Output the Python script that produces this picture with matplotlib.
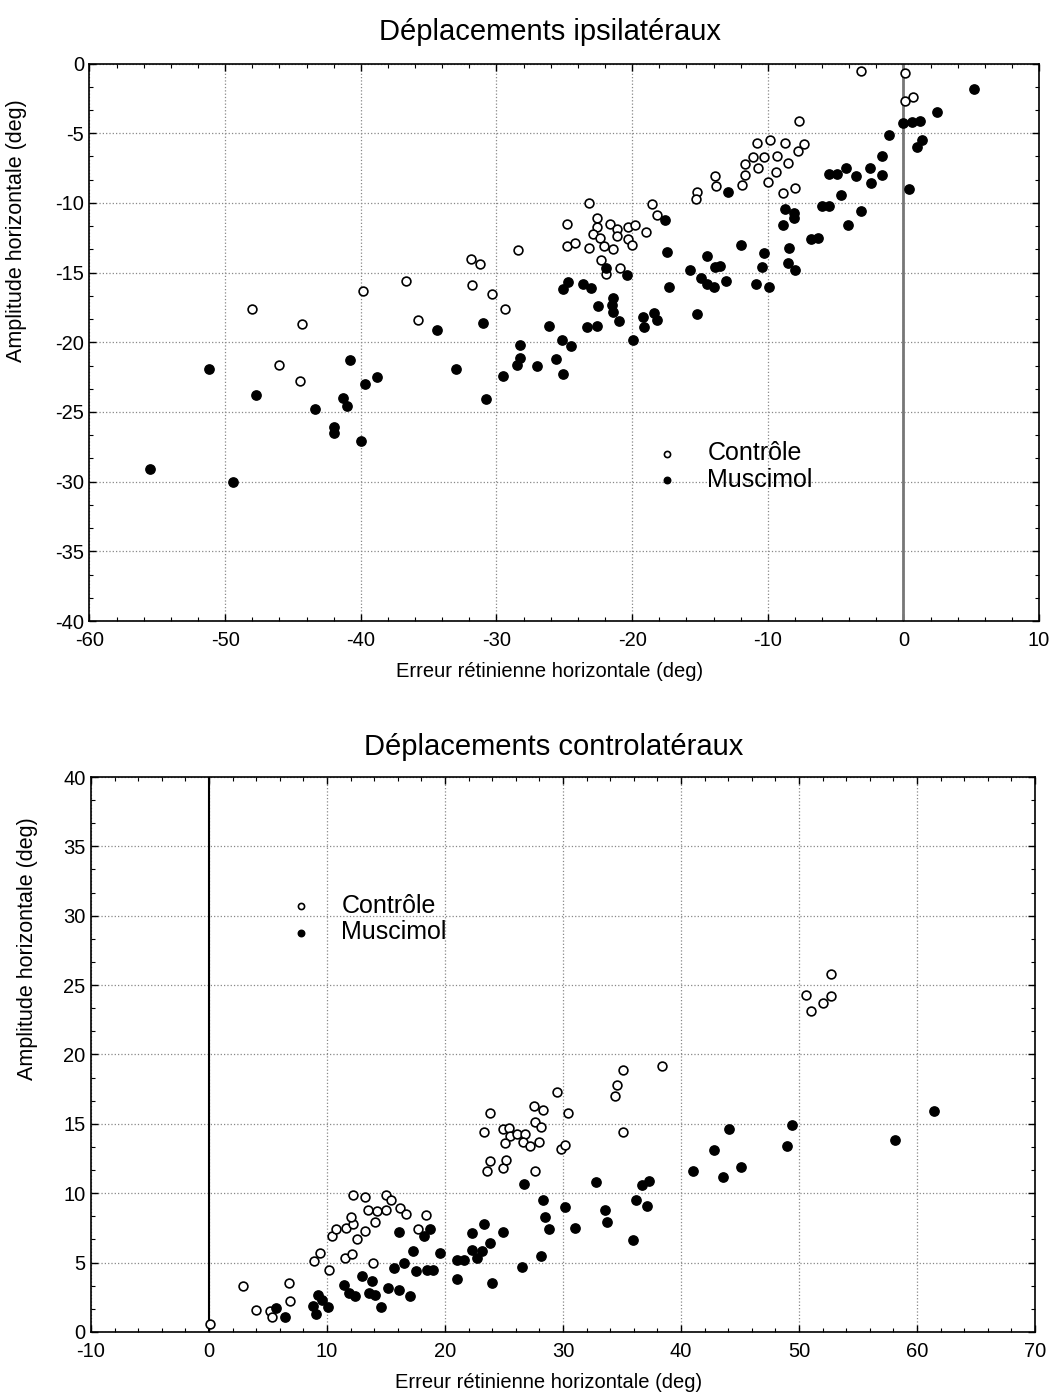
import matplotlib
matplotlib.use("Agg")
import matplotlib.pyplot as plt
from matplotlib.ticker import MultipleLocator, AutoMinorLocator

plt.rcParams['font.family'] = ['Liberation Sans', 'DejaVu Sans']
plt.rcParams['axes.unicode_minus'] = False

# Ipsilateral movements (top panel)
ipsi_ctrl_x = [-48.0, -44.3, -39.8, -36.7, -35.8, -31.9, -31.2, -31.8, -30.3, -29.4,
               -28.4, -24.8, -24.8, -46.0, -44.5, -3.1, 0.1, 0.7, 0.1, -7.7,
               -10.8, -9.8, -8.7, -7.3, -7.8, -11.1, -10.3, -9.3, -11.7, -10.7,
               -8.5, -13.9, -11.7, -9.4, -13.8, -11.9, -10.0, -15.2, -15.3, -8.9,
               -8.0, -23.2, -18.5, -18.2, -22.6, -22.6, -21.6, -21.1, -20.3, -19.8,
               -19.0, -22.9, -22.4, -21.1, -20.3, -20.0, -24.2, -23.2, -22.1, -21.4,
               -22.3, -20.9, -21.9]
ipsi_ctrl_y = [-17.6, -18.7, -16.3, -15.6, -18.4, -14.0, -14.4, -15.9, -16.5, -17.6,
               -13.4, -11.5, -13.1, -21.6, -22.8, -0.5, -0.7, -2.4, -2.7, -4.1,
               -5.7, -5.5, -5.7, -5.8, -6.3, -6.7, -6.7, -6.6, -7.2, -7.5,
               -7.1, -8.1, -8.0, -7.8, -8.8, -8.7, -8.5, -9.2, -9.7, -9.3,
               -8.9, -10.0, -10.1, -10.9, -11.1, -11.7, -11.5, -11.9, -11.7, -11.6,
               -12.1, -12.2, -12.5, -12.4, -12.6, -13.0, -12.9, -13.2, -13.1, -13.3,
               -14.1, -14.7, -15.1]

ipsi_musc_x = [5.2, 2.5, 0.0, 0.6, 1.2, 1.4, 1.0, -1.1, 0.4, -1.6,
               -2.5, -1.6, -4.2, -4.9, -5.5, -3.5, -2.4, -4.6, -12.9, -6.0,
               -5.5, -3.1, -4.1, -8.7, -8.1, -8.1, -8.9, -6.8, -6.3, -8.4,
               -10.3, -10.4, -8.5, -8.0, -10.9, -9.9, -12.0, -14.5, -13.9, -13.5,
               -15.7, -14.9, -14.5, -14.0, -13.1, -15.2, -17.6, -17.4, -17.3, -21.9,
               -20.4, -24.7, -25.1, -23.6, -23.0, -21.4, -21.5, -21.4, -22.5, -21.0,
               -23.3, -22.6, -19.2, -19.1, -18.4, -18.2, -19.9, -25.2, -24.5, -34.4,
               -31.0, -26.1, -28.3, -28.3, -28.5, -27.0, -25.6, -25.1, -29.5, -30.8,
               -33.0, -51.2, -47.7, -43.4, -40.8, -41.3, -41.0, -42.0, -42.0, -40.0,
               -39.7, -38.8, -55.5, -49.4]
ipsi_musc_y = [-1.8, -3.5, -4.3, -4.2, -4.1, -5.5, -6.0, -5.1, -9.0, -6.6,
               -7.5, -8.0, -7.5, -7.9, -7.9, -8.1, -8.6, -9.4, -9.2, -10.2,
               -10.2, -10.6, -11.6, -10.4, -10.7, -11.1, -11.6, -12.6, -12.5, -13.2,
               -13.6, -14.6, -14.3, -14.8, -15.8, -16.0, -13.0, -13.8, -14.6, -14.5,
               -14.8, -15.4, -15.8, -16.0, -15.6, -18.0, -11.2, -13.5, -16.0, -14.7,
               -15.2, -15.7, -16.2, -15.8, -16.1, -16.8, -17.3, -17.8, -17.4, -18.5,
               -18.9, -18.8, -18.2, -18.9, -17.9, -18.4, -19.8, -19.8, -20.3, -19.1,
               -18.6, -18.8, -20.2, -21.1, -21.6, -21.7, -21.2, -22.3, -22.4, -24.1,
               -21.9, -21.9, -23.8, -24.8, -21.3, -24.0, -24.6, -26.1, -26.5, -27.1,
               -23.0, -22.5, -29.1, -30.0]

# Contralateral movements (bottom panel)
contra_ctrl_x = [0.1, 2.9, 4.0, 5.2, 5.3, 6.8, 6.9, 8.9, 9.4, 10.2,
                 10.4, 10.8, 11.5, 12.1, 11.6, 12.2, 12.0, 12.2, 12.5, 13.2,
                 13.5, 14.2, 14.1, 13.2, 13.9, 15.0, 15.4, 15.0, 16.2, 16.7,
                 17.7, 18.4, 23.3, 23.8, 23.8, 23.6, 24.9, 25.2, 24.9, 25.4,
                 25.5, 25.1, 26.1, 26.8, 26.6, 27.2, 27.5, 28.3, 27.6, 28.1,
                 28.0, 27.6, 29.5, 29.8, 30.2, 30.4, 35.1, 34.6, 34.4, 35.1,
                 38.4, 52.7, 50.6, 52.7, 52.0, 51.0]
contra_ctrl_y = [0.6, 3.3, 1.6, 1.5, 1.1, 3.5, 2.2, 5.1, 5.7, 4.5,
                 6.9, 7.4, 5.3, 5.6, 7.5, 7.8, 8.3, 9.9, 6.7, 9.7,
                 8.8, 8.7, 7.9, 7.3, 5.0, 9.9, 9.5, 8.8, 8.9, 8.5,
                 7.4, 8.4, 14.4, 15.8, 12.3, 11.6, 11.8, 12.4, 14.6, 14.7,
                 14.1, 13.6, 14.3, 14.3, 13.7, 13.4, 16.3, 16.0, 15.1, 14.8,
                 13.7, 11.6, 17.3, 13.2, 13.5, 15.8, 18.9, 17.8, 17.0, 14.4,
                 19.2, 25.8, 24.3, 24.2, 23.7, 23.1]

contra_musc_x = [5.7, 6.4, 8.8, 9.1, 9.2, 9.6, 10.1, 11.4, 11.9, 12.4,
                 13.0, 13.8, 13.6, 14.1, 14.6, 15.2, 15.7, 16.1, 16.1, 16.5,
                 17.0, 17.3, 17.5, 18.2, 18.7, 18.5, 19.0, 19.6, 21.0, 21.6,
                 21.0, 22.3, 22.3, 22.7, 23.1, 23.3, 23.8, 24.0, 24.9, 26.5,
                 26.7, 28.1, 28.3, 28.5, 28.8, 30.2, 31.0, 32.8, 33.6, 33.7,
                 35.9, 36.2, 36.7, 37.3, 37.1, 41.0, 42.8, 43.6, 44.1, 45.1,
                 49.0, 49.4, 58.1, 61.4]
contra_musc_y = [1.7, 1.1, 1.9, 1.3, 2.7, 2.3, 1.8, 3.4, 2.8, 2.6,
                 4.0, 3.7, 2.8, 2.7, 1.8, 3.2, 4.6, 3.0, 7.2, 5.0,
                 2.6, 5.8, 4.4, 6.9, 7.4, 4.5, 4.5, 5.7, 5.2, 5.2,
                 3.8, 7.1, 5.9, 5.3, 5.8, 7.8, 6.4, 3.5, 7.2, 4.7,
                 10.7, 5.5, 9.5, 8.3, 7.4, 9.0, 7.5, 10.8, 8.8, 7.9,
                 6.6, 9.5, 10.6, 10.9, 9.1, 11.6, 13.1, 11.2, 14.6, 11.9,
                 13.4, 14.9, 13.8, 15.9]


def style_axes(ax):
    ax.xaxis.set_minor_locator(AutoMinorLocator(5))
    ax.yaxis.set_minor_locator(AutoMinorLocator(3))
    ax.tick_params(which='both', direction='in', top=True, right=True,
                   labelsize=14.5, color='black')
    ax.tick_params(axis='x', which='major', pad=7)
    ax.tick_params(axis='y', which='major', pad=4)
    ax.tick_params(which='major', length=5, width=1)
    ax.tick_params(which='minor', length=3, width=0.8)
    ax.grid(True, which='major', linestyle=':', color='#888888', linewidth=0.9)
    for s in ax.spines.values():
        s.set_linewidth(1.2)
    ax.set_axisbelow(True)


fig = plt.figure(figsize=(10.56, 14), dpi=100)

# Top panel
ax1 = fig.add_axes([0.0847, 0.5564, 0.8993, 0.3982])
ax1.axvline(0, color='#777777', linewidth=2, zorder=1)
ax1.scatter(ipsi_ctrl_x, ipsi_ctrl_y, s=40, facecolors='white', edgecolors='black',
            linewidths=1.2, label='Contrôle', zorder=3)
ax1.scatter(ipsi_musc_x, ipsi_musc_y, s=45, color='black', label='Muscimol', zorder=3)
ax1.set_xlim(-60, 10)
ax1.set_ylim(-40, 0)
ax1.xaxis.set_major_locator(MultipleLocator(10))
ax1.yaxis.set_major_locator(MultipleLocator(5))
style_axes(ax1)
ax1.set_title('Déplacements ipsilatéraux', fontsize=21, pad=17, x=0.485)
ax1.set_xlabel('Erreur rétinienne horizontale (deg)', fontsize=14.5)
ax1.set_ylabel('Amplitude horizontale (deg)', fontsize=15.5)
ax1.xaxis.set_label_coords(0.485, -0.074)
ax1.yaxis.set_label_coords(-0.066, 0.70)
ax1.legend(loc='upper left', bbox_to_anchor=(0.569, 0.345), frameon=False,
           fontsize=18, markerscale=0.7, handletextpad=0.6, labelspacing=0.1,
           borderpad=0)

# Bottom panel
ax2 = fig.add_axes([0.0862, 0.0486, 0.8939, 0.3964])
ax2.axvline(0, color='black', linewidth=1.5, zorder=1)
ax2.scatter(contra_ctrl_x, contra_ctrl_y, s=40, facecolors='white', edgecolors='black',
            linewidths=1.2, label='Contrôle', zorder=3)
ax2.scatter(contra_musc_x, contra_musc_y, s=45, color='black', label='Muscimol', zorder=3)
ax2.set_xlim(-10, 70)
ax2.set_ylim(0, 40)
ax2.xaxis.set_major_locator(MultipleLocator(10))
ax2.yaxis.set_major_locator(MultipleLocator(5))
style_axes(ax2)
ax2.set_title('Déplacements controlatéraux', fontsize=21, pad=16, x=0.49)
ax2.set_xlabel('Erreur rétinienne horizontale (deg)', fontsize=14.5)
ax2.set_ylabel('Amplitude horizontale (deg)', fontsize=15.5)
ax2.xaxis.set_label_coords(0.485, -0.074)
ax2.yaxis.set_label_coords(-0.056, 0.69)
ax2.legend(loc='upper left', bbox_to_anchor=(0.183, 0.812), frameon=False,
           fontsize=18, markerscale=0.7, handletextpad=0.6, labelspacing=0.1,
           borderpad=0)

fig.savefig('out.png', dpi=100)
